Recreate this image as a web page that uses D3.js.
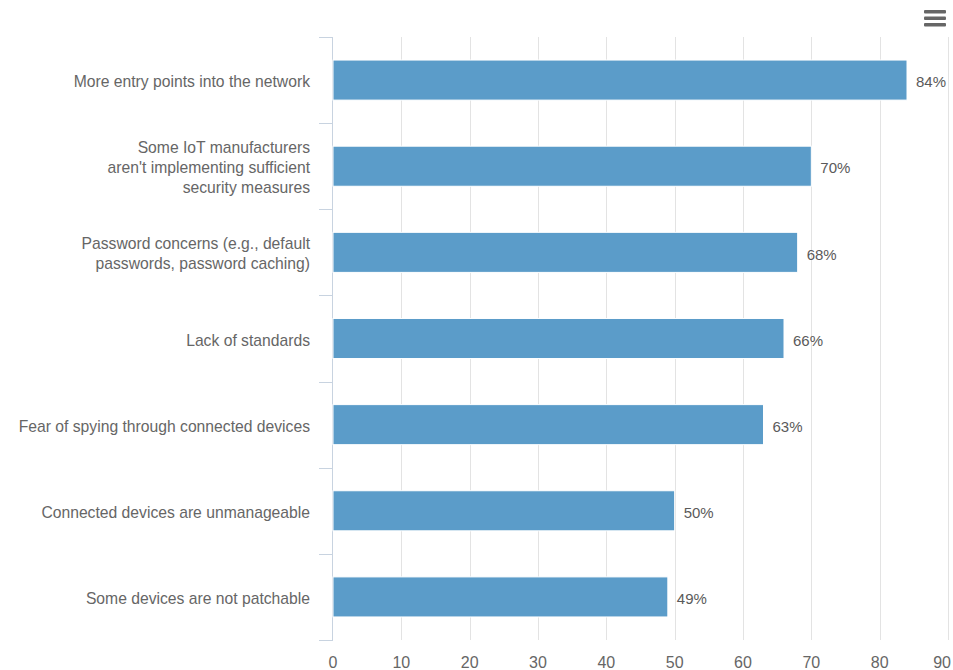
<!DOCTYPE html>
<html>
<head>
<meta charset="utf-8">
<script src="https://cdn.jsdelivr.net/npm/d3@7"></script>
<style>
  html, body { margin: 0; padding: 0; background: #fff; }
  svg { display: block; font-family: "Liberation Sans", Arial, Helvetica, sans-serif; }
</style>
</head>
<body>
<svg id="chart" width="953" height="670"></svg>
<script>
// IoT security concerns, share of respondents (%)
const categories = [
  ["More entry points into the network"],
  ["Some IoT manufacturers", "aren't implementing sufficient", "security measures"],
  ["Password concerns (e.g., default", "passwords, password caching)"],
  ["Lack of standards"],
  ["Fear of spying through connected devices"],
  ["Connected devices are unmanageable"],
  ["Some devices are not patchable"]
];
const values = [84, 70, 68, 66, 63, 50, 49];
const xTicks = [0, 10, 20, 30, 40, 50, 60, 70, 80, 90];

(function () {
  const svg = d3.select("#chart");
  const plotL = 333, plotR = 948, plotT = 37, plotB = 640;

  const x = d3.scaleLinear().domain([0, 90]).range([plotL, plotR]);
  const y = d3.scaleBand().domain(d3.range(categories.length)).range([plotT, plotB])
    .paddingInner(0.535).paddingOuter(0.2675);

  // vertical grid lines
  svg.append("g").selectAll("line").data(xTicks.slice(1)).join("line")
    .attr("x1", d => Math.round(x(d)) + 0.5).attr("x2", d => Math.round(x(d)) + 0.5)
    .attr("y1", plotT).attr("y2", plotB)
    .attr("stroke", "#e3e3e3").attr("stroke-width", 1);

  // category axis line and tick marks at category boundaries
  const band = (plotB - plotT) / categories.length;
  svg.append("line").attr("x1", plotL - 0.5).attr("x2", plotL - 0.5).attr("y1", plotT).attr("y2", plotB)
    .attr("stroke", "#c8d3e0").attr("stroke-width", 1);
  svg.append("g").selectAll("line").data(d3.range(categories.length + 1)).join("line")
    .attr("x1", plotL - 14).attr("x2", plotL)
    .attr("y1", i => Math.round(plotT + i * band) + 0.5).attr("y2", i => Math.round(plotT + i * band) + 0.5)
    .attr("stroke", "#c8d3e0").attr("stroke-width", 1);

  // bars
  svg.append("g").selectAll("rect").data(values).join("rect")
    .attr("x", x(0)).attr("y", (d, i) => y(i))
    .attr("width", d => x(d) - x(0)).attr("height", y.bandwidth())
    .attr("fill", "#5b9cc9").attr("stroke", "#ffffff").attr("stroke-width", 1);

  // value labels
  svg.append("g").selectAll("text").data(values).join("text")
    .attr("x", d => x(d) + 9).attr("y", (d, i) => y(i) + y.bandwidth() / 2 + 2)
    .attr("dy", "0.35em").attr("fill", "#5a5a5a").attr("font-size", 15)
    .text(d => d + "%");

  // category labels
  const lineH = 20;
  const lab = svg.append("g").selectAll("text").data(categories).join("text")
    .attr("text-anchor", "end").attr("fill", "#666").attr("font-size", 15.7)
    .attr("transform", (d, i) => `translate(${plotL - 23},${y(i) + y.bandwidth() / 2 + 1.5})`);
  lab.each(function (lines) {
    const t = d3.select(this);
    const off = -(lines.length - 1) * lineH / 2;
    lines.forEach((s, k) => {
      t.append("tspan").attr("x", 0).attr("y", off + k * lineH).attr("dy", "0.35em").text(s);
    });
  });

  // value axis labels; the last one is kept inside the right edge
  svg.append("g").selectAll("text").data(xTicks).join("text")
    .attr("x", (d, i) => i === xTicks.length - 1 ? 951 : x(d))
    .attr("y", 668)
    .attr("text-anchor", (d, i) => i === xTicks.length - 1 ? "end" : "middle")
    .attr("fill", "#666").attr("font-size", 16)
    .text(d => d);

  // export menu icon
  svg.append("g").selectAll("rect").data([0, 1, 2]).join("rect")
    .attr("x", 924).attr("y", d => 10 + d * 6.5).attr("width", 22).attr("height", 3.5)
    .attr("rx", 1).attr("fill", "#666");
})();
</script>
</body>
</html>
